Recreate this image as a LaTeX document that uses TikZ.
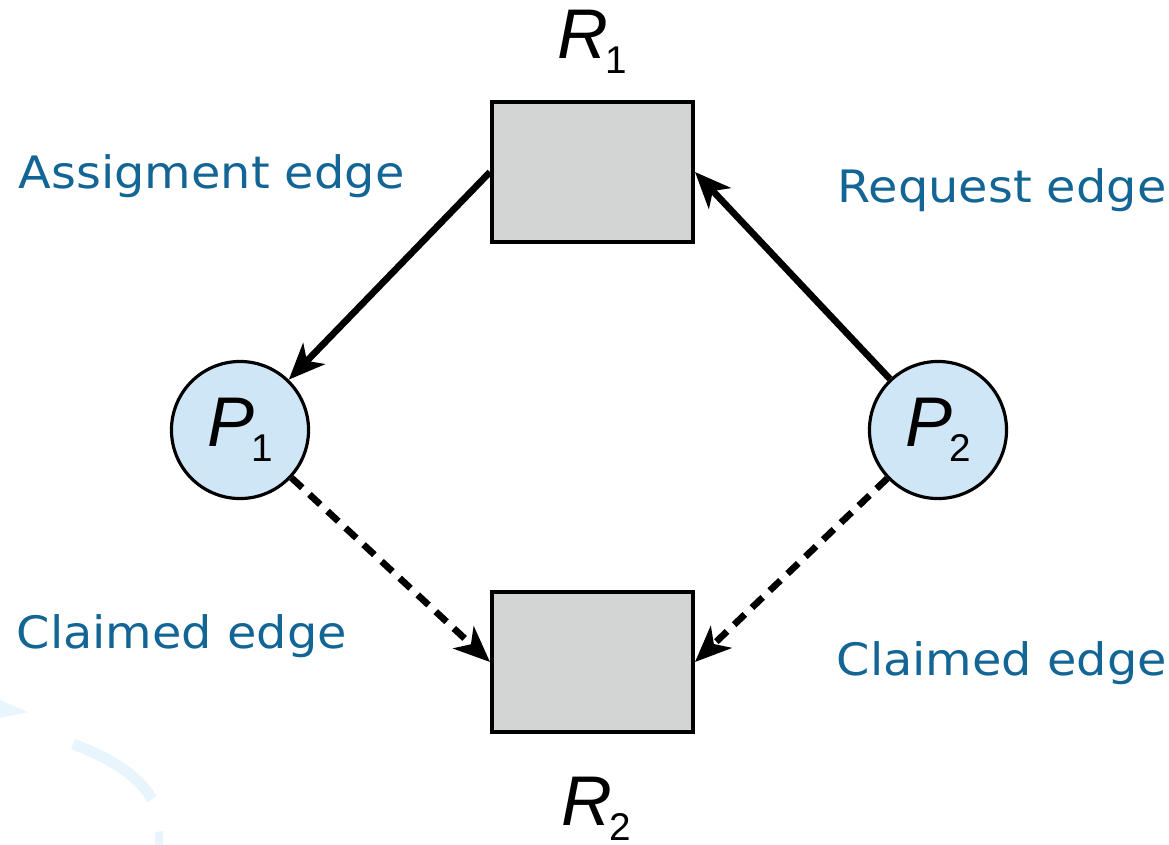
\documentclass[tikz,border=0pt]{standalone}
\usepackage{fontspec}
\setmainfont{DejaVu Sans}[FakeStretch=1.07]
\newfontfamily\symfont{Liberation Sans}
\usetikzlibrary{arrows.meta}
\definecolor{edgeC} {RGB}{ 18, 101, 148}
\definecolor{procC} {RGB}{207, 230, 246}
\definecolor{resC}  {RGB}{211, 213, 213}
\definecolor{decoC} {RGB}{232, 245, 253}

\tikzset{
  resbox/.style={draw=black, fill=resC, line width=1.1pt,
    minimum width=2.01cm, minimum height=1.40cm, inner sep=0pt},
  procnode/.style={circle, draw=black, fill=procC, line width=0.9pt,
    minimum size=1.37cm, inner sep=0pt, font=\symfont\fontsize{20}{20}\selectfont},
  reslabel/.style={anchor=base, inner sep=0pt, font=\symfont\fontsize{20}{20}\selectfont},
  edgelabel/.style={anchor=base west, inner sep=0pt, text=edgeC,
    font=\fontsize{12.7}{15}\selectfont},
  assign/.style={-{Stealth[length=0.36cm, width=0.30cm, inset=0.10cm]}, line width=1.9pt},
  claim/.style={assign, dash pattern=on 4.2pt off 2.8pt},
}
\newcommand{\subl}[2]{\textit{#1}\kern-0.04em\raisebox{-0.15cm}{\fontsize{11}{11}\selectfont #2}}

\begin{document}
\begin{tikzpicture}[x=0.01cm, y=-0.01cm]
\useasboundingbox (0,0) rectangle (1169,845);

% ============================================================
% Faint background strokes (bottom left)
% ============================================================
\fill[decoC] (0,700) -- (28,712) -- (0,718) -- cycle;
\draw[decoC, line width=0.11cm]
  (73,744) .. controls (110,758) and (138,775) .. (152,799);
\fill[decoC] (155,832) -- (163,831) -- (163,845) -- (155,845) -- cycle;

% ============================================================
% Resources and processes
% ============================================================
\node[resbox] (r1) at (592.5,172) {};
\node[resbox] (r2) at (592.5,662) {};
\node[reslabel] (r1lbl) at (592,58)  {\subl{R}{1}};
\node[reslabel] (r2lbl) at (596,825) {\subl{R}{2}};

\node[procnode] (p1) at (240,430) {\subl{P}{1}};
\node[procnode] (p2) at (938,430) {\subl{P}{2}};

% Edges
\draw[assign] (r1.west) -- (p1);
\draw[assign] (p2) -- (r1.east);
\draw[claim]  (p1) -- (r2.west);
\draw[claim]  (p2) -- (r2.east);

% Labels
\node[edgelabel] (asglbl) at (18,188)  {Assigment edge};
\node[edgelabel] (reqlbl) at (837,202) {Request edge};
\node[edgelabel] (cl1lbl) at (16,648)  {Claimed edge};
\node[edgelabel] (cl2lbl) at (836,675) {Claimed edge};

\end{tikzpicture}
\end{document}
